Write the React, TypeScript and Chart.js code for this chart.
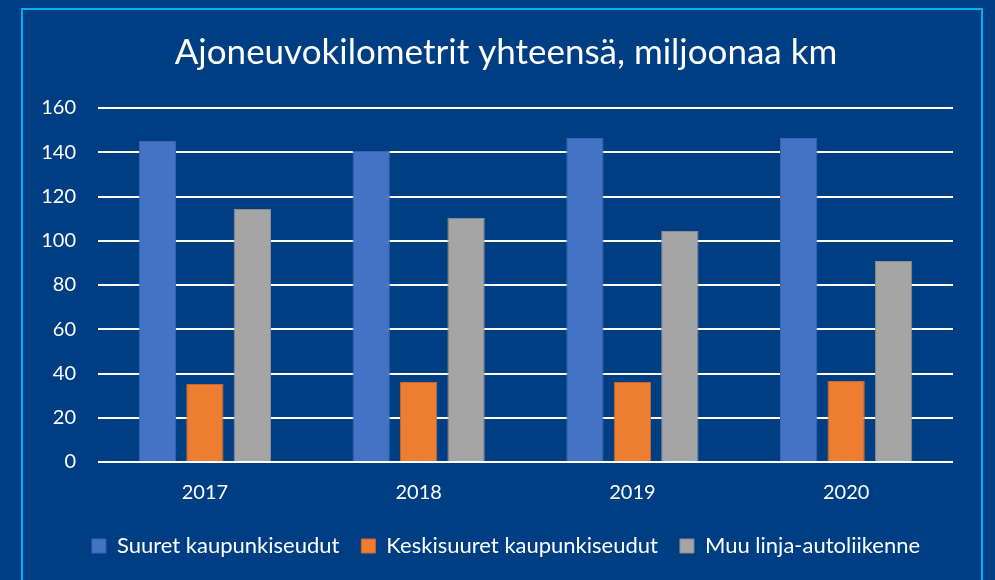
import { useEffect, useRef } from "react";
import { Chart, registerables } from "chart.js";

Chart.register(...registerables);

const categories = ["2017", "2018", "2019", "2020"];
const seriesNames = [
  "Suuret kaupunkiseudut",
  "Keskisuuret kaupunkiseudut",
  "Muu linja-autoliikenne",
];
const suuret = [145.1, 140.6, 146.4, 146.4];
const keskisuuret = [35.3, 36.2, 36.2, 36.6];
const muu = [114.3, 110.3, 104.4, 90.8];
const yMin = 0;
const yMax = 160;
const yStep = 20;
const titleText = "Ajoneuvokilometrit yhteensä, miljoonaa km";

const FONT = "Lato, 'Open Sans', sans-serif";

export default function App() {
  const ref = useRef<HTMLCanvasElement | null>(null);

  useEffect(() => {
    if (!ref.current) return;
    const chart = new Chart(ref.current, {
      type: "bar",
      data: {
        labels: categories,
        datasets: [
          {
            label: seriesNames[0],
            data: suuret,
            backgroundColor: "#4472C4",
            borderColor: "#3a64ae",
            borderWidth: 1,
          },
          {
            label: seriesNames[1],
            data: keskisuuret,
            backgroundColor: "#ED7D31",
            borderColor: "#c8692a",
            borderWidth: 1,
          },
          {
            label: seriesNames[2],
            data: muu,
            backgroundColor: "#A5A5A5",
            borderColor: "#8c8c8c",
            borderWidth: 1,
          },
        ],
      },
      options: {
        responsive: false,
        animation: false,
        datasets: {
          bar: {
            categoryPercentage: 0.666,
            barPercentage: 0.787,
          },
        },
        layout: {
          padding: { left: 17, right: 0, top: 0, bottom: 13 },
        },
        plugins: {
          title: {
            display: true,
            text: titleText,
            color: "#ffffff",
            font: { family: FONT, size: 35, weight: "normal" },
            padding: { top: 32, bottom: 34 },
          },
          legend: {
            position: "bottom",
            labels: {
              color: "#ffffff",
              boxWidth: 14,
              boxHeight: 14,
              padding: 22,
              font: { family: FONT, size: 22 },
            },
          },
          tooltip: { enabled: false },
        },
        scales: {
          x: {
            grid: { display: false, drawTicks: false },
            border: { display: false },
            ticks: {
              color: "#ffffff",
              padding: 19,
              font: { family: FONT, size: 20 },
            },
            afterFit: (scale: any) => {
              scale.height = 51;
            },
          },
          y: {
            min: yMin,
            max: yMax,
            ticks: {
              stepSize: yStep,
              color: "#ffffff",
              padding: 22,
              font: { family: FONT, size: 20 },
            },
            grid: { color: "#ffffff", lineWidth: 2, drawTicks: false },
            border: { display: false },
            afterFit: (scale: any) => {
              scale.width = 81;
            },
          },
          yRight: {
            type: "linear",
            position: "right",
            display: true,
            grid: { display: false, drawTicks: false },
            border: { display: false },
            ticks: { display: false },
            afterFit: (scale: any) => {
              scale.width = 42;
            },
          },
        },
      },
    });
    return () => chart.destroy();
  }, []);

  return (
    <div
      style={{
        position: "fixed",
        left: 0,
        top: 0,
        width: 995,
        height: 580,
        background: "#003e83",
        overflow: "hidden",
      }}
    >
      <div
        style={{
          position: "absolute",
          left: 21,
          top: 8,
          width: 962,
          height: 700,
          border: "2px solid #00B0F0",
          boxSizing: "border-box",
        }}
      />
      <canvas
        ref={ref}
        width={995}
        height={580}
        style={{ position: "absolute", left: 0, top: 0, width: 995, height: 580 }}
      />
    </div>
  );
}
